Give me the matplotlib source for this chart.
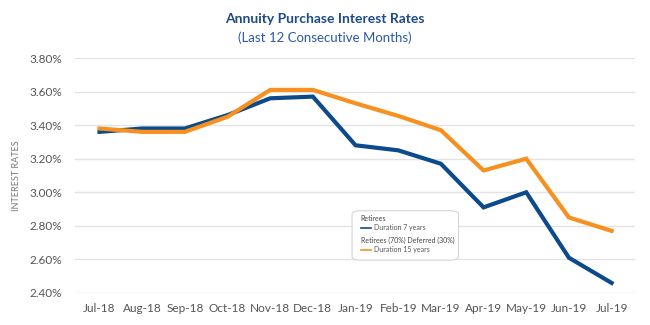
import matplotlib.pyplot as plt
from matplotlib.patches import FancyBboxPatch
from matplotlib.lines import Line2D

months = ["Jul-18", "Aug-18", "Sep-18", "Oct-18", "Nov-18", "Dec-18", "Jan-19",
          "Feb-19", "Mar-19", "Apr-19", "May-19", "Jun-19", "Jul-19"]
retirees_7yr = [3.36, 3.38, 3.38, 3.46, 3.56, 3.57, 3.28, 3.25, 3.17, 2.91, 3.00, 2.61, 2.46]
deferred_15yr = [3.38, 3.36, 3.36, 3.45, 3.61, 3.61, 3.53, 3.455, 3.37, 3.13, 3.20, 2.85, 2.77]
yticks = [2.40, 2.60, 2.80, 3.00, 3.20, 3.40, 3.60, 3.80]

blue = "#0d4a8c"
orange = "#f7901e"

plt.rcParams['font.family'] = ['Lato', 'DejaVu Sans']

fig = plt.figure(figsize=(6.5, 3.25), dpi=100)
ax = fig.add_axes([0.115, 0.0985, 0.862, 0.723])

x = range(len(months))
ax.plot(x, retirees_7yr, color=blue, lw=3, solid_joinstyle='miter', zorder=3)
ax.plot(x, deferred_15yr, color=orange, lw=3, solid_joinstyle='miter', zorder=3)

ax.set_ylim(2.40, 3.80)
ax.set_xlim(-0.58, 12.55)
ax.set_yticks(yticks)
ax.set_yticklabels([f"{v:.2f}%" for v in yticks])
ax.set_xticks(list(x))
ax.set_xticklabels(months)
ax.tick_params(length=0, labelsize=8.5, labelcolor="#555555")
ax.tick_params(axis='y', pad=9)
ax.tick_params(axis='x', pad=7)
ax.grid(axis='y', color="#e3e3e3", lw=1)
ax.set_axisbelow(True)
for s in ax.spines.values():
    s.set_visible(False)

ax.set_ylabel("INTEREST RATES", fontsize=6.5, color="#777777", labelpad=6)

fig.text(0.5, 0.93, "Annuity Purchase Interest Rates", ha='center', fontsize=10,
         fontweight='bold', color="#1c4a8a")
fig.text(0.5, 0.87, "(Last 12 Consecutive Months)", ha='center', fontsize=9.5,
         color="#2a5aa5")

# legend box
box = FancyBboxPatch((0.495, 0.14), 0.19, 0.21, boxstyle="round,pad=0,rounding_size=0.015",
                     transform=ax.transAxes, facecolor="white", edgecolor="#d5d5d5",
                     lw=0.8, zorder=4)
ax.add_patch(box)
ax.text(0.51, 0.315, "Retirees", transform=ax.transAxes, fontsize=5,
        color="#444444", va='center', zorder=5)
ax.add_line(Line2D([0.51, 0.528], [0.277, 0.277], transform=ax.transAxes,
                   color=blue, lw=1.2, zorder=5))
ax.text(0.534, 0.277, "Duration 7 years", transform=ax.transAxes, fontsize=5,
        color="#555555", va='center', zorder=5)
ax.text(0.51, 0.225, "Retirees (70%) Deferred (30%)", transform=ax.transAxes,
        fontsize=5, color="#444444", va='center', zorder=5)
ax.add_line(Line2D([0.51, 0.528], [0.185, 0.185], transform=ax.transAxes,
                   color=orange, lw=1.2, zorder=5))
ax.text(0.534, 0.185, "Duration 15 years", transform=ax.transAxes, fontsize=5,
        color="#555555", va='center', zorder=5)

fig.savefig("out.png", dpi=100)
